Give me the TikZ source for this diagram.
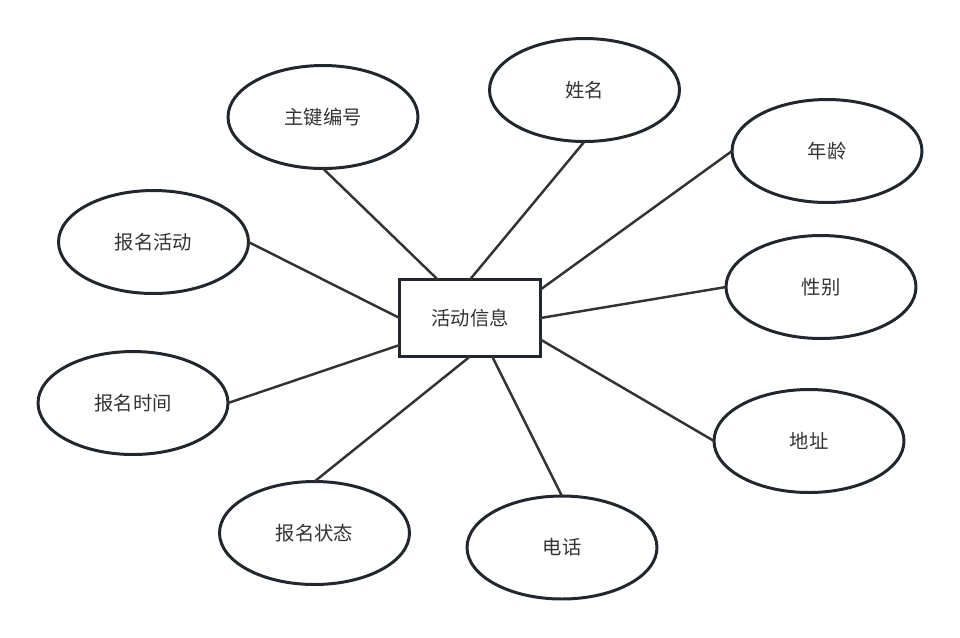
\documentclass[tikz,border=0pt]{standalone}
\usepackage{fontspec}
\newfontfamily\cjk{Noto Sans CJK SC}
\usepackage{tikz}
\usetikzlibrary{shapes.geometric}
\definecolor{rim}{HTML}{22272E}
\definecolor{edge}{HTML}{333333}
\definecolor{txt}{HTML}{333333}

\begin{document}
\begin{tikzpicture}[
			x=0.02cm, y=-0.02cm,
			entity/.style={draw=rim, line width=1.7pt, rectangle, minimum width=2.82cm,
				minimum height=1.54cm, inner sep=0pt, outer sep=0pt, text=txt,
				font=\cjk\fontsize{11}{13}\selectfont},
			attr/.style={draw=rim, line width=1.7pt, ellipse, minimum width=3.8cm,
				minimum height=2.06cm, inner sep=0pt, outer sep=0pt, text=txt,
				font=\cjk\fontsize{11}{13}\selectfont},
			link/.style={edge, line width=1.4pt}
		]
		\useasboundingbox (0,0) rectangle (960,637);

		% Entity in the middle
		\node[entity] (info) at (470,318) {活动信息};

		% Attributes round it
		\node[attr] (key)    at (323,117) {主键编号};
		\node[attr] (name)   at (584.5,90) {姓名};
		\node[attr] (age)    at (827,151) {年龄};
		\node[attr] (act)    at (153.5,242) {报名活动};
		\node[attr] (sex)    at (821,287) {性别};
		\node[attr] (time)   at (133,403) {报名时间};
		\node[attr] (addr)   at (809,441) {地址};
		\node[attr] (state)  at (314.5,533) {报名状态};
		\node[attr] (phone)  at (562,547.5) {电话};

		% Connectors, fixed points on the entity
		\foreach \a/\b in {key.south/info.130, name.south/info.north,
				age.west/info.22, act.east/info.west, sex.west/info.east,
				time.east/info.201, addr.west/info.343,
				state.north/info.south, phone.north/info.300}
			\draw[link] (\a) -- (\b);

	\end{tikzpicture}
\end{document}
